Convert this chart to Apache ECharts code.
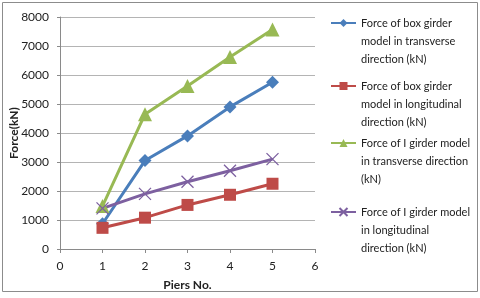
<!DOCTYPE html>
<html><head><meta charset="utf-8">
<script src="https://cdn.jsdelivr.net/npm/echarts@6/dist/echarts.min.js"></script>
<style>html,body{margin:0;padding:0;background:#fff}#c{width:480px;height:298px}</style>
</head><body><div id="c"></div>
<script>
const piers = [1, 2, 3, 4, 5];
const boxTransverse = [870, 3050, 3900, 4900, 5750];
const boxLongitudinal = [730, 1080, 1520, 1870, 2250];
const iTransverse = [1480, 4650, 5620, 6620, 7570];
const iLongitudinal = [1400, 1900, 2320, 2700, 3100];
const seriesNames = [
  'Force of box girder\nmodel in transverse\ndirection (kN)',
  'Force of box girder\nmodel in longitudinal\ndirection (kN)',
  'Force of I girder model\nin transverse direction\n(kN)',
  'Force of I girder model\nin longitudinal\ndirection (kN)'
];
const xTicks = [0, 1, 2, 3, 4, 5, 6];
const yTicks = [0, 1000, 2000, 3000, 4000, 5000, 6000, 7000, 8000];

const pair = arr => piers.map((p, i) => [p, arr[i]]);
const colors = ['#4A7EBB', '#BE4B48', '#98B954', '#7D60A0'];
const font = 'Lato, "Open Sans", sans-serif';
const crossPath = 'path://M0,0L10,10M10,0L0,10';

const chart = echarts.init(document.getElementById('c'));
const legendTops = [-27, 36, 93, 162];
chart.setOption({
  animation: false,
  color: colors,
  grid: { left: 60, right: 165, top: 17, bottom: 49, containLabel: false, outerBoundsMode: 'none' },
  graphic: [{ type: 'rect', shape: { x: 2.5, y: 2.5, width: 475, height: 289 },
    style: { fill: null, stroke: '#8c8c8c', lineWidth: 1 }, silent: true }],
  xAxis: {
    type: 'value', min: xTicks[0], max: xTicks[xTicks.length - 1], interval: 1,
    name: 'Piers No.', nameLocation: 'middle', nameGap: 30, nameMoveOverlap: false,
    nameTextStyle: { fontFamily: font, fontWeight: 'bold', fontSize: 12, color: '#222' },
    axisLine: { lineStyle: { color: '#8a8a8a' } },
    axisTick: { show: true, length: 4, lineStyle: { color: '#8a8a8a' } },
    axisLabel: { fontFamily: font, fontSize: 12, color: '#222', margin: 11 },
    splitLine: { show: false }
  },
  yAxis: {
    type: 'value', min: yTicks[0], max: yTicks[yTicks.length - 1], interval: 1000,
    name: 'Force(kN)', nameLocation: 'middle', nameGap: 40, nameRotate: 90, nameMoveOverlap: false,
    nameTextStyle: { fontFamily: font, fontWeight: 'bold', fontSize: 12, color: '#222' },
    axisLine: { show: true, lineStyle: { color: '#8a8a8a' } },
    axisTick: { show: true, length: 3, lineStyle: { color: '#8a8a8a' } },
    axisLabel: { fontFamily: font, fontSize: 12, color: '#222', margin: 11, formatter: v => String(v) },
    splitLine: { lineStyle: { color: '#b4b4b4', width: 1 } }
  },
  legend: seriesNames.map((n, i) => ({
    data: [n], left: 325, top: legendTops[i], orient: 'vertical', padding: 5,
    itemWidth: 25, itemHeight: 10, itemGap: 0,
    formatter: s => '\u00a0\n\u00a0\n' + s,
    textStyle: { fontFamily: font, fontSize: 11, color: '#222', lineHeight: 18 }
  })),
  series: [
    { name: seriesNames[0], type: 'line', data: pair(boxTransverse), symbol: 'diamond', symbolSize: 13,
      lineStyle: { width: 3 } },
    { name: seriesNames[1], type: 'line', data: pair(boxLongitudinal), symbol: 'rect', symbolSize: 12,
      lineStyle: { width: 3 } },
    { name: seriesNames[2], type: 'line', data: pair(iTransverse), symbol: 'triangle', symbolSize: 14,
      lineStyle: { width: 3 } },
    { name: seriesNames[3], type: 'line', data: pair(iLongitudinal), symbol: crossPath, symbolSize: 12,
      lineStyle: { width: 3, color: colors[3] },
      itemStyle: { color: 'rgba(0,0,0,0)', borderColor: colors[3], borderWidth: 1.3 } }
  ]
});
</script></body></html>
